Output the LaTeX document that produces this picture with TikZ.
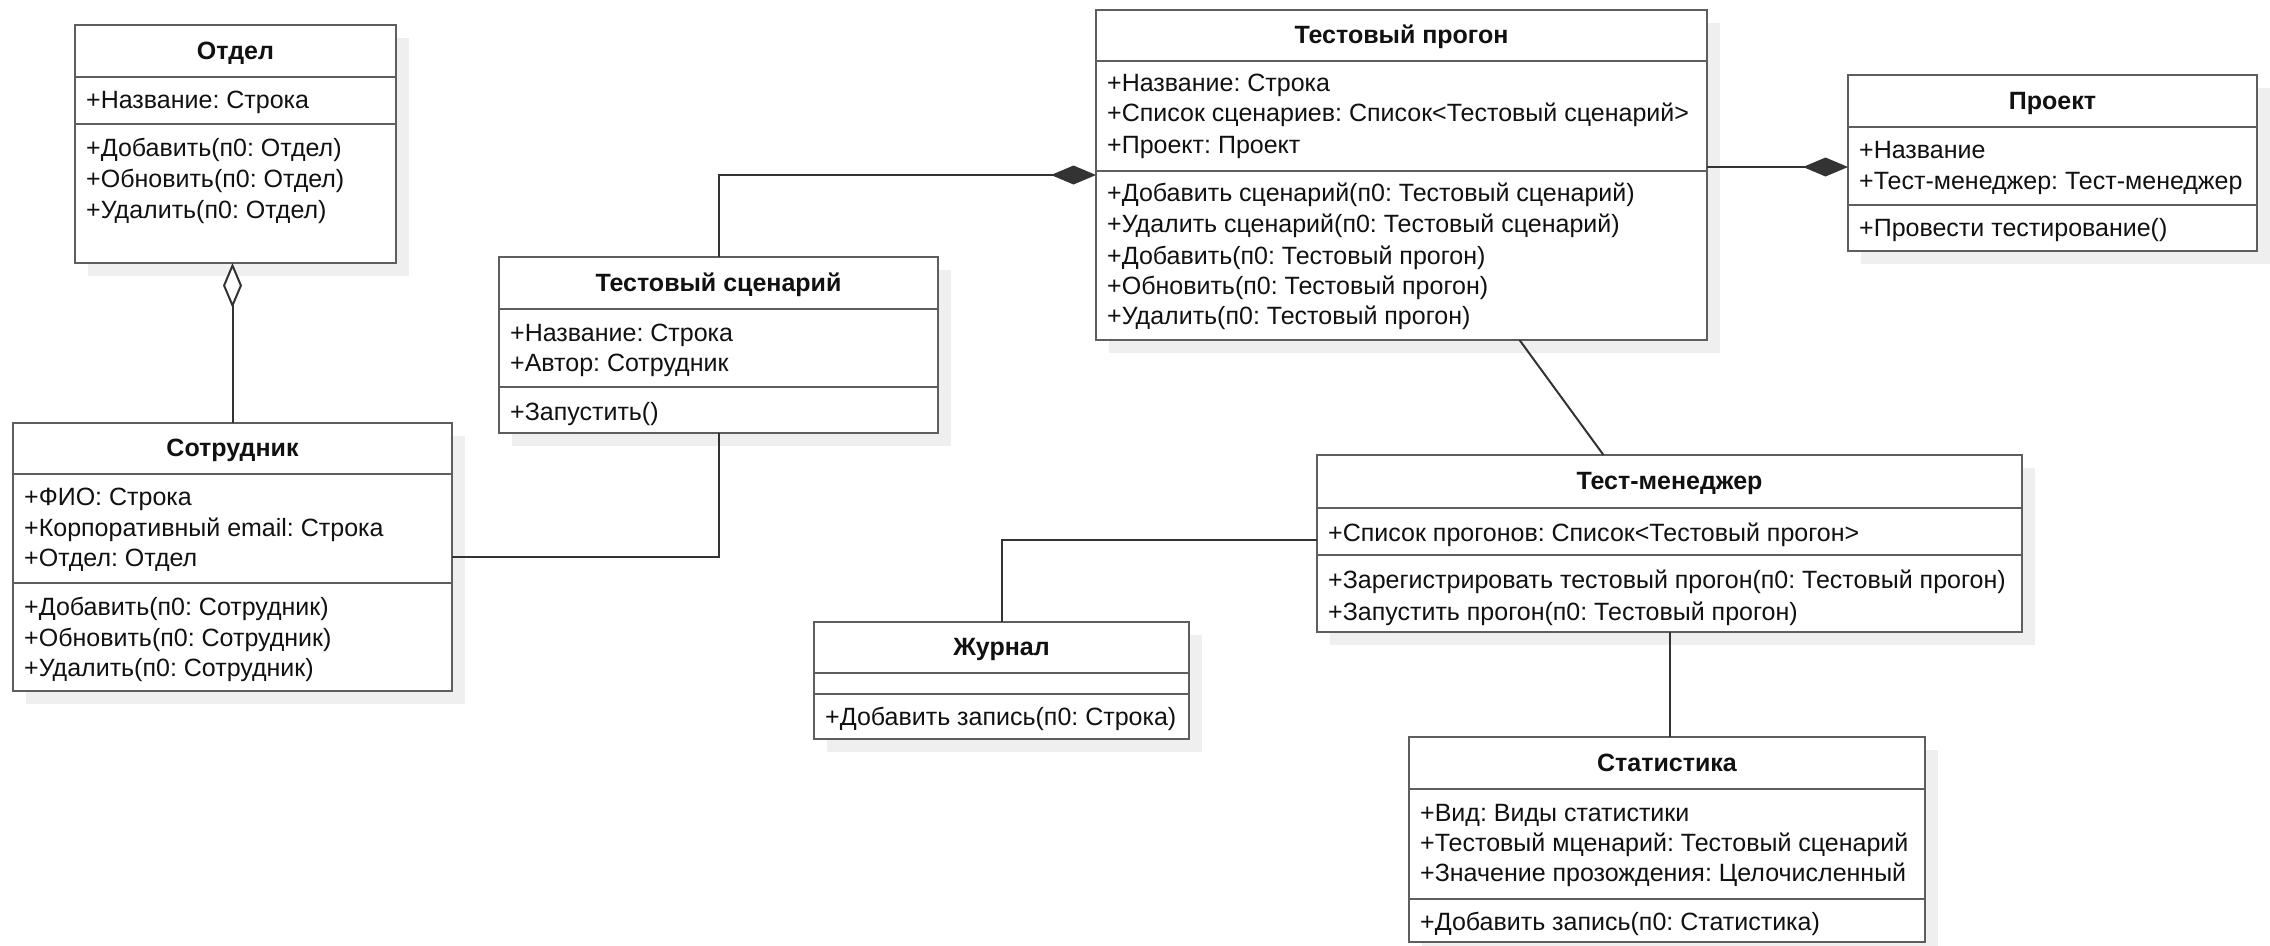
\documentclass[tikz,border=0pt]{standalone}
\usepackage{fontspec}
\setmainfont{Liberation Sans}
\usetikzlibrary{arrows.meta}
\frenchspacing
\definecolor{boxc}{HTML}{5E5E5E}
\definecolor{linec}{HTML}{333333}
\definecolor{txtc}{HTML}{111111}
\definecolor{shadc}{HTML}{EFEFEF}
\tikzset{
  classbox/.style={draw=boxc, line width=2.6pt, fill=white, anchor=north west, inner sep=0pt, outer sep=0pt},
  sepline/.style={draw=boxc, line width=2.6pt},
  shadowbox/.style={fill=shadc},
  titletext/.style={font=\fontsize{25}{29}\selectfont\bfseries, text=txtc, inner sep=0pt, anchor=base},
  rowtext/.style={font=\fontsize{25}{29}\selectfont, text=txtc, anchor=base west, inner sep=0pt},
  conn/.style={draw=linec, line width=2pt},
  opendia/.style={{Diamond[open, fill=white, length=45pt, width=19pt]}-},
  filldia/.style={-{Diamond[length=45pt, width=19pt]}},
}
% name, x1, y1, x2, y2, hsep, asep, title
\newcommand{\umlclass}[8]{%
  \fill[shadowbox] (#2+13,#3+13) rectangle (#4+13,#5+13);
  \node[classbox, minimum width={#4-#2}, minimum height={#5-#3}] (#1) at (#2,#3) {};
  \draw[sepline] (#2,#6) -- (#4,#6);
  \draw[sepline] (#2,#7) -- (#4,#7);
  \node[titletext] (#1-t) at ({(#2+#4)/2},{(#3+#6)/2+8}) {#8};
}
% name, x1, ycenter, text
\newcommand{\umlrow}[4]{\node[rowtext] (#1) at (#2+11,#3+8) {#4};}
\begin{document}
\begin{tikzpicture}[x=1pt, y=-1pt]
\useasboundingbox (0,0) rectangle (2270,945);

% Отдел
\umlclass{otdel}{75}{25}{396}{263}{77}{124}{Отдел}
\umlrow{otdel-a1}{75}{100}{+Название: Строка}
\umlrow{otdel-m1}{75}{148}{+Добавить(п0: Отдел)}
\umlrow{otdel-m2}{75}{179}{+Обновить(п0: Отдел)}
\umlrow{otdel-m3}{75}{210}{+Удалить(п0: Отдел)}

% Сотрудник
\umlclass{sotr}{13}{423}{452}{691}{474}{583}{Сотрудник}
\umlrow{sotr-a1}{13}{497}{+ФИО: Строка}
\umlrow{sotr-a2}{13}{528}{+Корпоративный email: Строка}
\umlrow{sotr-a3}{13}{558}{+Отдел: Отдел}
\umlrow{sotr-m1}{13}{607}{+Добавить(п0: Сотрудник)}
\umlrow{sotr-m2}{13}{638}{+Обновить(п0: Сотрудник)}
\umlrow{sotr-m3}{13}{668}{+Удалить(п0: Сотрудник)}

% Тестовый сценарий
\umlclass{scen}{499}{257}{938}{433}{309}{387}{Тестовый сценарий}
\umlrow{scen-a1}{499}{333}{+Название: Строка}
\umlrow{scen-a2}{499}{363}{+Автор: Сотрудник}
\umlrow{scen-m1}{499}{412}{+Запустить()}

% Тестовый прогон
\umlclass{progon}{1096}{10}{1707}{340}{61}{171}{Тестовый прогон}
\umlrow{progon-a1}{1096}{83}{+Название: Строка}
\umlrow{progon-a2}{1096}{113}{+Список сценариев: Список<Тестовый сценарий>}
\umlrow{progon-a3}{1096}{145}{+Проект: Проект}
\umlrow{progon-m1}{1096}{193}{+Добавить сценарий(п0: Тестовый сценарий)}
\umlrow{progon-m2}{1096}{224}{+Удалить сценарий(п0: Тестовый сценарий)}
\umlrow{progon-m3}{1096}{256}{+Добавить(п0: Тестовый прогон)}
\umlrow{progon-m4}{1096}{286}{+Обновить(п0: Тестовый прогон)}
\umlrow{progon-m5}{1096}{316}{+Удалить(п0: Тестовый прогон)}

% Проект
\umlclass{proekt}{1848}{75}{2257}{251}{127}{205}{Проект}
\umlrow{proekt-a1}{1848}{150}{+Название}
\umlrow{proekt-a2}{1848}{181}{+Тест-менеджер: Тест-менеджер}
\umlrow{proekt-m1}{1848}{228}{+Провести тестирование()}

% Тест-менеджер
\umlclass{tm}{1317}{455}{2022}{632}{508}{555}{Тест-менеджер}
\umlrow{tm-a1}{1317}{533}{+Список прогонов: Список<Тестовый прогон>}
\umlrow{tm-m1}{1317}{580}{+Зарегистрировать тестовый прогон(п0: Тестовый прогон)}
\umlrow{tm-m2}{1317}{612}{+Запустить прогон(п0: Тестовый прогон)}

% Журнал
\umlclass{zh}{814}{622}{1189}{739}{673}{694}{Журнал}
\umlrow{zh-m1}{814}{717}{+Добавить запись(п0: Строка)}

% Статистика
\umlclass{stat}{1409}{737}{1925}{942}{789}{899}{Статистика}
\umlrow{stat-a1}{1409}{813}{+Вид: Виды статистики}
\umlrow{stat-a2}{1409}{843}{+Тестовый мценарий: Тестовый сценарий}
\umlrow{stat-a3}{1409}{873}{+Значение прозождения: Целочисленный}
\umlrow{stat-m1}{1409}{922}{+Добавить запись(п0: Статистика)}

% Connectors
\draw[conn, opendia] (otdel.south -| sotr.north) -- (sotr.north);
\draw[conn] (sotr.east) -| (scen.south);
\draw[conn, filldia] (scen.north) |- (progon.west);
\coordinate (pk) at ([yshift=-4pt]proekt.west);
\draw[conn, filldia] (progon.east |- pk) -- (pk);
\draw[conn] ([xshift=118pt]progon.south) -- ([xshift=-66pt]tm.north);
\draw[conn] ([yshift=4pt]tm.west) -| (zh.north);
\draw[conn] (tm.south) -- (tm.south |- stat.north);
\end{tikzpicture}
\end{document}
